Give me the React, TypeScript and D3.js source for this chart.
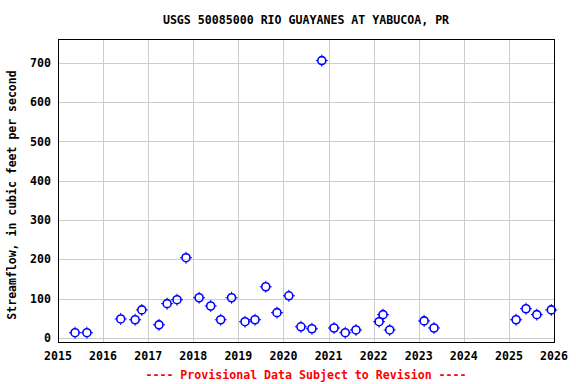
import React, { useEffect, useRef } from "react";
import * as d3 from "d3";

const dates = [
  "2015-05-19", "2015-08-23", "2016-05-23", "2016-09-17", "2016-11-10",
  "2017-03-29", "2017-06-03", "2017-08-22", "2017-11-03", "2018-02-17",
  "2018-05-22", "2018-08-11", "2018-11-07", "2019-02-24", "2019-05-16",
  "2019-08-11", "2019-11-10", "2020-02-14", "2020-05-22", "2020-08-19",
  "2020-11-07", "2021-02-14", "2021-05-16", "2021-08-11", "2022-02-14",
  "2022-03-18", "2022-05-11", "2023-02-14", "2023-05-05", "2025-02-28",
  "2025-05-19", "2025-08-15", "2025-12-10",
];
const flows = [
  13, 13, 48, 46, 71,
  33, 87, 97, 204, 102,
  81, 46, 102, 41, 46,
  130, 64, 107, 28, 23,
  706, 25, 13, 20, 41,
  59, 20, 43, 25, 46,
  74, 59, 71,
];
const yTicks = [0, 100, 200, 300, 400, 500, 600, 700];
const xTickYears = [2015, 2016, 2017, 2018, 2019, 2020, 2021, 2022, 2023, 2024, 2025, 2026];
const title = "USGS 50085000 RIO GUAYANES AT YABUCOA, PR";
const yLabel = "Streamflow, in cubic feet per second";
const footer = "---- Provisional Data Subject to Revision ----";

const W = 576, H = 384;
const M = { left: 58, right: 554, top: 39, bottom: 342 };
const FONT = "'DejaVu Sans Mono', 'Liberation Mono', monospace";

export default function App() {
  const ref = useRef<SVGSVGElement>(null);
  useEffect(() => {
    const svg = d3.select(ref.current);
    svg.selectAll("*").remove();
    const x = d3.scaleTime()
      .domain([new Date(2015, 0, 1), new Date(2026, 0, 1)])
      .range([M.left, M.right]);
    const y = d3.scaleLinear().domain([-10.7, 761]).range([M.bottom, M.top]);

    svg.append("rect").attr("width", W).attr("height", H).attr("fill", "#fff");

    const grid = svg.append("g").attr("stroke", "#cccccc").attr("stroke-width", 1);
    xTickYears.forEach((yr) => {
      const px = Math.round(x(new Date(yr, 0, 1))) + 0.5;
      grid.append("line").attr("x1", px).attr("x2", px).attr("y1", M.top).attr("y2", M.bottom);
    });
    yTicks.forEach((v) => {
      const py = Math.round(y(v)) + 0.5;
      grid.append("line").attr("x1", M.left).attr("x2", M.right).attr("y1", py).attr("y2", py);
    });

    svg.append("rect")
      .attr("x", M.left + 0.5).attr("y", M.top + 0.5)
      .attr("width", M.right - M.left).attr("height", M.bottom - M.top)
      .attr("fill", "none").attr("stroke", "#000").attr("stroke-width", 1);

    const tl = svg.append("g").attr("font-family", FONT).attr("font-weight", "bold").attr("font-size", 11.6).attr("fill", "#000");
    yTicks.forEach((v) => {
      tl.append("text").attr("x", 51).attr("y", y(v)).attr("dy", "0.35em")
        .attr("text-anchor", "end").text(String(v));
    });
    xTickYears.forEach((yr) => {
      tl.append("text").attr("x", x(new Date(yr, 0, 1))).attr("y", 356)
        .attr("dy", "0.35em").attr("text-anchor", "middle").text(String(yr));
    });

    svg.append("text").attr("x", 306).attr("y", 20).attr("dy", "0.35em")
      .attr("text-anchor", "middle").attr("font-family", FONT).attr("font-weight", "bold")
      .attr("font-size", 11.6).text(title);

    svg.append("text").attr("transform", `translate(12,195) rotate(-90)`)
      .attr("dy", "0.35em").attr("text-anchor", "middle").attr("font-family", FONT)
      .attr("font-weight", "bold").attr("font-size", 11.5).text(yLabel);

    svg.append("text").attr("x", 306).attr("y", 375).attr("dy", "0.35em")
      .attr("text-anchor", "middle").attr("font-family", FONT).attr("font-weight", "bold")
      .attr("font-size", 11.6).attr("fill", "#ff0000").text(footer);

    const parse = d3.timeParse("%Y-%m-%d");
    const pts = svg.append("g").attr("stroke", "#0000ff").attr("fill", "none");
    dates.forEach((d, i) => {
      const cx = x(parse(d) as Date);
      const cy = y(flows[i]);
      const g = pts.append("g").attr("transform", `translate(${cx},${cy})`);
      g.append("circle").attr("r", 4).attr("stroke-width", 1.6);
      g.append("line").attr("x1", 0).attr("x2", 0).attr("y1", -6).attr("y2", -4).attr("stroke-width", 1);
      g.append("line").attr("x1", 0).attr("x2", 0).attr("y1", 4).attr("y2", 6).attr("stroke-width", 1);
      g.append("line").attr("x1", -6).attr("x2", -4).attr("y1", 0).attr("y2", 0).attr("stroke-width", 1);
      g.append("line").attr("x1", 4).attr("x2", 6).attr("y1", 0).attr("y2", 0).attr("stroke-width", 1);
    });
  }, []);
  return (
    <svg ref={ref} width={W} height={H}
      style={{ position: "absolute", left: 0, top: 0, display: "block" }} />
  );
}
